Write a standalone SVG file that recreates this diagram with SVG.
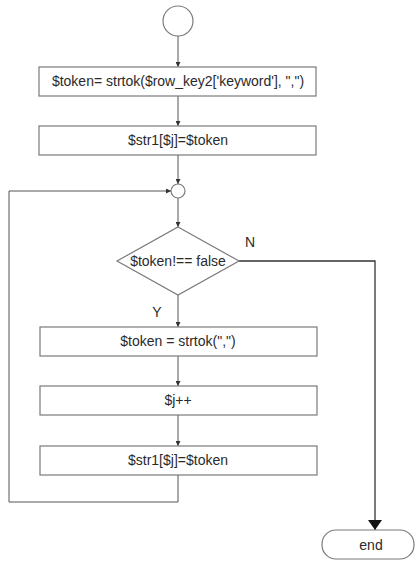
<svg xmlns="http://www.w3.org/2000/svg" width="415" height="565" viewBox="0 0 415 565">
  <defs>
    <marker id="arr" viewBox="0 0 10 10" refX="10" refY="5" markerWidth="5" markerHeight="5" markerUnits="userSpaceOnUse" orient="auto">
      <path d="M0,0 L10,5 L0,10 z" fill="#333"/>
    </marker>
    <marker id="arrBig" viewBox="0 0 10 14" refX="10" refY="7" markerWidth="11" markerHeight="14" markerUnits="userSpaceOnUse" orient="auto">
      <path d="M0,0 L10,7 L0,14 z" fill="#111"/>
    </marker>
  </defs>
  <style>
    .shape { fill: #fff; stroke: #7a7a7a; stroke-width: 1.2; }
    .line { fill: none; stroke: #555; stroke-width: 1; }
    .label { font-family: "Liberation Sans", Arial, sans-serif; font-size: 14px; fill: #2a2a2a; text-anchor: middle; }
  </style>
  <rect width="415" height="565" fill="#fff"/>

  <g id="connectors">
    <line class="line" x1="178" y1="36" x2="178" y2="67" marker-end="url(#arr)"/>
    <line class="line" x1="178" y1="96" x2="178" y2="126" marker-end="url(#arr)"/>
    <line class="line" x1="178" y1="155" x2="178" y2="184" marker-end="url(#arr)"/>
    <line class="line" x1="178" y1="198" x2="178" y2="227" marker-end="url(#arr)"/>
    <line class="line" x1="178" y1="295" x2="178" y2="327" marker-end="url(#arr)"/>
    <line class="line" x1="178" y1="356" x2="178" y2="386" marker-end="url(#arr)"/>
    <line class="line" x1="178" y1="415" x2="178" y2="446" marker-end="url(#arr)"/>
    <polyline class="line" points="178,475 178,502 9,502 9,191 171,191" marker-end="url(#arr)"/>
    <polyline class="line" points="239,261 375,261 375,530" style="stroke:#333;stroke-width:1.3" marker-end="url(#arrBig)"/>
  </g>

  <g id="start">
    <circle class="shape" cx="178" cy="21" r="15"/>
  </g>
  <g id="init-token">
    <rect class="shape" x="39" y="67" width="277" height="29"/>
    <text class="label" x="178" y="86">$token= strtok($row_key2['keyword'], ",")</text>
  </g>
  <g id="store-first">
    <rect class="shape" x="39" y="126" width="277" height="29"/>
    <text class="label" x="178" y="145">$str1[$j]=$token</text>
  </g>
  <g id="merge">
    <circle class="shape" cx="178" cy="191" r="7"/>
  </g>
  <g id="check-token">
    <polygon class="shape" points="178,227 239,261 178,295 117,261"/>
    <text class="label" x="178" y="266">$token!== false</text>
    <text class="label" x="250" y="247">N</text>
    <text class="label" x="157" y="317">Y</text>
  </g>
  <g id="next-token">
    <rect class="shape" x="40" y="327" width="277" height="29"/>
    <text class="label" x="178" y="346">$token = strtok(",")</text>
  </g>
  <g id="increment">
    <rect class="shape" x="40" y="386" width="277" height="29"/>
    <text class="label" x="178" y="405">$j++</text>
  </g>
  <g id="store-next">
    <rect class="shape" x="40" y="446" width="277" height="29"/>
    <text class="label" x="178" y="465">$str1[$j]=$token</text>
  </g>
  <g id="end">
    <rect class="shape" x="322" y="530" width="92" height="29" rx="14" ry="14"/>
    <text class="label" x="371" y="550">end</text>
  </g>
</svg>
